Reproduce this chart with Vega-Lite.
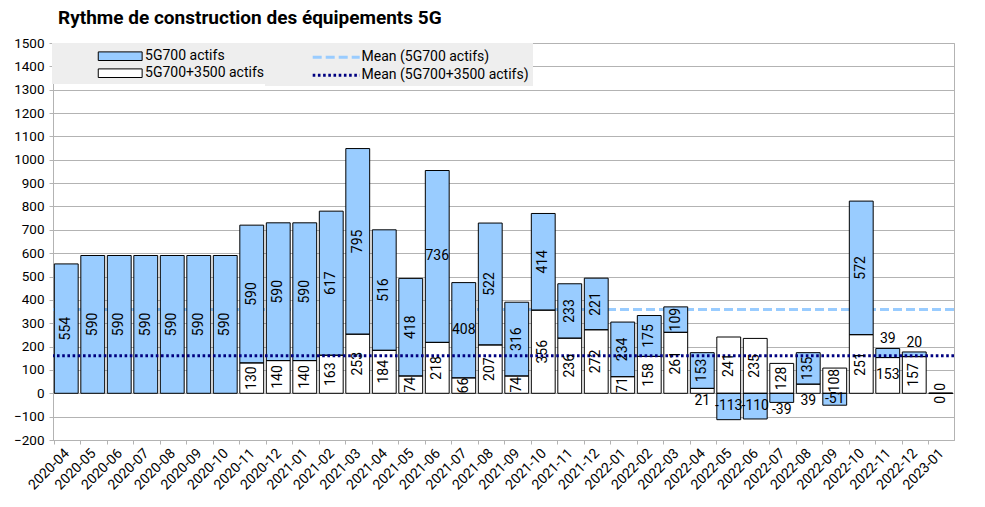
{
  "$schema": "https://vega.github.io/schema/vega-lite/v6.json",
  "width": 901,
  "height": 397,
  "autosize": {"type": "none"},
  "padding": {"left": 53, "top": 43, "right": 31, "bottom": 67},
  "title": {"text": "Rythme de construction des équipements 5G", "anchor": "start", "frame": "group", "fontSize": 19, "fontWeight": "bold", "font": "Roboto", "color": "black", "baseline": "alphabetic", "offset": 15, "dx": 5, "dy": 22},
  "config": {
    "font": "Roboto",
    "view": {"stroke": "#b3b3b3"},
    "axis": {"domainColor": "#b3b3b3", "tickColor": "#b3b3b3", "gridColor": "#b3b3b3", "labelColor": "black", "labelFont": "Roboto"}
  },
  "data": {"values": [
    {"month": "2020-04", "series": "5G700 actifs", "value": 554},
    {"month": "2020-05", "series": "5G700 actifs", "value": 590},
    {"month": "2020-06", "series": "5G700 actifs", "value": 590},
    {"month": "2020-07", "series": "5G700 actifs", "value": 590},
    {"month": "2020-08", "series": "5G700 actifs", "value": 590},
    {"month": "2020-09", "series": "5G700 actifs", "value": 590},
    {"month": "2020-10", "series": "5G700 actifs", "value": 590},
    {"month": "2020-11", "series": "5G700 actifs", "value": 590},
    {"month": "2020-12", "series": "5G700 actifs", "value": 590},
    {"month": "2021-01", "series": "5G700 actifs", "value": 590},
    {"month": "2021-02", "series": "5G700 actifs", "value": 617},
    {"month": "2021-03", "series": "5G700 actifs", "value": 795},
    {"month": "2021-04", "series": "5G700 actifs", "value": 516},
    {"month": "2021-05", "series": "5G700 actifs", "value": 418},
    {"month": "2021-06", "series": "5G700 actifs", "value": 736},
    {"month": "2021-07", "series": "5G700 actifs", "value": 408},
    {"month": "2021-08", "series": "5G700 actifs", "value": 522},
    {"month": "2021-09", "series": "5G700 actifs", "value": 316},
    {"month": "2021-10", "series": "5G700 actifs", "value": 414},
    {"month": "2021-11", "series": "5G700 actifs", "value": 233},
    {"month": "2021-12", "series": "5G700 actifs", "value": 221},
    {"month": "2022-01", "series": "5G700 actifs", "value": 234},
    {"month": "2022-02", "series": "5G700 actifs", "value": 175},
    {"month": "2022-03", "series": "5G700 actifs", "value": 109},
    {"month": "2022-04", "series": "5G700 actifs", "value": 153},
    {"month": "2022-05", "series": "5G700 actifs", "value": -113},
    {"month": "2022-06", "series": "5G700 actifs", "value": -110},
    {"month": "2022-07", "series": "5G700 actifs", "value": -39},
    {"month": "2022-08", "series": "5G700 actifs", "value": 135},
    {"month": "2022-09", "series": "5G700 actifs", "value": -51},
    {"month": "2022-10", "series": "5G700 actifs", "value": 572},
    {"month": "2022-11", "series": "5G700 actifs", "value": 39},
    {"month": "2022-12", "series": "5G700 actifs", "value": 20},
    {"month": "2023-01", "series": "5G700 actifs", "value": 0},
    {"month": "2020-11", "series": "5G700+3500 actifs", "value": 130},
    {"month": "2020-12", "series": "5G700+3500 actifs", "value": 140},
    {"month": "2021-01", "series": "5G700+3500 actifs", "value": 140},
    {"month": "2021-02", "series": "5G700+3500 actifs", "value": 163},
    {"month": "2021-03", "series": "5G700+3500 actifs", "value": 253},
    {"month": "2021-04", "series": "5G700+3500 actifs", "value": 184},
    {"month": "2021-05", "series": "5G700+3500 actifs", "value": 74},
    {"month": "2021-06", "series": "5G700+3500 actifs", "value": 218},
    {"month": "2021-07", "series": "5G700+3500 actifs", "value": 66},
    {"month": "2021-08", "series": "5G700+3500 actifs", "value": 207},
    {"month": "2021-09", "series": "5G700+3500 actifs", "value": 74},
    {"month": "2021-10", "series": "5G700+3500 actifs", "value": 356},
    {"month": "2021-11", "series": "5G700+3500 actifs", "value": 236},
    {"month": "2021-12", "series": "5G700+3500 actifs", "value": 272},
    {"month": "2022-01", "series": "5G700+3500 actifs", "value": 71},
    {"month": "2022-02", "series": "5G700+3500 actifs", "value": 158},
    {"month": "2022-03", "series": "5G700+3500 actifs", "value": 261},
    {"month": "2022-04", "series": "5G700+3500 actifs", "value": 21},
    {"month": "2022-05", "series": "5G700+3500 actifs", "value": 241},
    {"month": "2022-06", "series": "5G700+3500 actifs", "value": 235},
    {"month": "2022-07", "series": "5G700+3500 actifs", "value": 128},
    {"month": "2022-08", "series": "5G700+3500 actifs", "value": 39},
    {"month": "2022-09", "series": "5G700+3500 actifs", "value": 108},
    {"month": "2022-10", "series": "5G700+3500 actifs", "value": 251},
    {"month": "2022-11", "series": "5G700+3500 actifs", "value": 153},
    {"month": "2022-12", "series": "5G700+3500 actifs", "value": 157},
    {"month": "2023-01", "series": "5G700+3500 actifs", "value": 0}
  ]},
  "layer": [
    {
      "transform": [{"filter": "datum.series === '5G700 actifs'"}],
      "mark": {"type": "rule", "strokeWidth": 3},
      "encoding": {
        "y": {"aggregate": "mean", "field": "value", "type": "quantitative", "title": null, "scale": {"domain": [-200, 1500], "nice": false, "zero": false},
              "axis": {"values": [-200,-100,0,100,200,300,400,500,600,700,800,900,1000,1100,1200,1300,1400,1500], "format": "d", "labelFontSize": 13.5, "tickSize": 4, "labelPadding": 5, "grid": true, "title": null}},
        "stroke": {"datum": "Mean (5G700 actifs)", "type": "nominal",
          "scale": {"domain": ["Mean (5G700 actifs)", "Mean (5G700+3500 actifs)"], "range": ["#99ccff", "#000080"]},
          "legend": {"orient": "none", "legendX": 212, "legendY": 0, "title": null, "fillColor": "#eeeeee", "padding": 3.7,
            "symbolType": "M-2.7,0H2.7", "symbolSize": 303, "symbolStrokeWidth": 3, "symbolOffset": 57, "labelOffset": 14.8,
            "labelFontSize": 14, "labelFont": "Roboto", "labelColor": "black", "labelLimit": 400, "rowPadding": -3}},
        "strokeDash": {"datum": "Mean (5G700 actifs)", "type": "nominal",
          "scale": {"domain": ["Mean (5G700 actifs)", "Mean (5G700+3500 actifs)"], "range": [[9, 4], [2.6, 2.6]]},
          "legend": {"orient": "none", "legendX": 212, "legendY": 0, "title": null, "fillColor": "#eeeeee", "padding": 3.7,
            "symbolType": "M-2.7,0H2.7", "symbolSize": 303, "symbolStrokeWidth": 3, "symbolOffset": 57, "labelOffset": 14.8,
            "labelFontSize": 14, "labelFont": "Roboto", "labelColor": "black", "labelLimit": 400, "rowPadding": -3}}
      }
    },
    {
      "transform": [
        {"stack": "value", "groupby": ["month"], "sort": [{"field": "series", "order": "descending"}], "as": ["v0", "v1"]}
      ],
      "mark": {"type": "bar", "opacity": 1},
      "encoding": {
        "x": {"field": "month", "type": "nominal", "title": null, "scale": {"paddingInner": 0.1, "paddingOuter": 0.05},
              "axis": {"labelAngle": -45, "labelFontSize": 14, "tickSize": 4, "labelPadding": 2, "bandPosition": 0, "labelOffset": -4, "grid": false}},
        "y": {"field": "v0", "type": "quantitative", "title": null, "scale": {"domain": [-200, 1500], "nice": false, "zero": false},
              "axis": {"values": [-200,-100,0,100,200,300,400,500,600,700,800,900,1000,1100,1200,1300,1400,1500], "format": "d", "labelFontSize": 13.5, "tickSize": 4, "labelPadding": 5, "grid": true, "title": null}},
        "y2": {"field": "v1"},
        "fill": {"field": "series", "type": "nominal",
          "scale": {"domain": ["5G700 actifs", "5G700+3500 actifs"], "range": ["#99ccff", "#ffffff"]},
          "legend": {
            "orient": "none", "legendX": -1, "legendY": 0, "title": null,
            "fillColor": "#eeeeee", "padding": 3.7,
            "symbolType": "M-2.55,-0.5H2.55V0.5H-2.55Z", "symbolSize": 296, "symbolStrokeColor": "black", "symbolStrokeWidth": 1,
            "symbolOffset": 55, "labelOffset": 15.4, "labelFontSize": 14, "labelFont": "Roboto", "labelColor": "black", "labelLimit": 400,
            "rowPadding": -3, "symbolOpacity": 1
          }
        }
      }
    },
    {
      "transform": [
        {"stack": "value", "groupby": ["month"], "sort": [{"field": "series", "order": "descending"}], "as": ["v0", "v1"]}
      ],
      "mark": {"type": "bar", "fill": "transparent", "stroke": "black", "strokeWidth": 1},
      "encoding": {
        "x": {"field": "month", "type": "nominal", "title": null},
        "y": {"field": "v0", "type": "quantitative", "title": null,
              "axis": {"values": [-200,-100,0,100,200,300,400,500,600,700,800,900,1000,1100,1200,1300,1400,1500], "format": "d", "labelFontSize": 13.5, "tickSize": 4, "labelPadding": 5, "grid": true, "title": null}},
        "y2": {"field": "v1"}
      }
    },
    {
      "transform": [{"filter": "datum.series === '5G700+3500 actifs'"}],
      "mark": {"type": "rule", "strokeWidth": 3},
      "encoding": {
        "y": {"aggregate": "mean", "field": "value", "type": "quantitative", "title": null,
              "axis": {"values": [-200,-100,0,100,200,300,400,500,600,700,800,900,1000,1100,1200,1300,1400,1500], "format": "d", "labelFontSize": 13.5, "tickSize": 4, "labelPadding": 5, "grid": true, "title": null}},
        "stroke": {"datum": "Mean (5G700+3500 actifs)", "type": "nominal"},
        "strokeDash": {"datum": "Mean (5G700+3500 actifs)", "type": "nominal"}
      }
    },
    {
      "transform": [
        {"stack": "value", "groupby": ["month"], "sort": [{"field": "series", "order": "descending"}], "as": ["v0", "v1"]},
        {"calculate": "(datum.v0 + datum.v1) / 2", "as": "mid"},
        {"filter": "indexof(['2021-06|5G700 actifs','2021-07|5G700 actifs','2022-05|5G700 actifs','2022-06|5G700 actifs','2022-09|5G700 actifs','2022-11|5G700+3500 actifs','2022-11|5G700 actifs','2022-12|5G700 actifs','2022-04|5G700+3500 actifs','2022-08|5G700+3500 actifs','2022-07|5G700 actifs','2023-01|5G700 actifs','2023-01|5G700+3500 actifs'], datum.month + '|' + datum.series) < 0"}
      ],
      "mark": {"type": "text", "angle": 270, "align": "center", "baseline": "middle", "fontSize": 14, "font": "Roboto", "color": "black"},
      "encoding": {
        "x": {"field": "month", "type": "nominal"},
        "y": {"field": "mid", "type": "quantitative", "title": null,
              "axis": {"values": [-200,-100,0,100,200,300,400,500,600,700,800,900,1000,1100,1200,1300,1400,1500], "format": "d", "labelFontSize": 13.5, "tickSize": 4, "labelPadding": 5, "grid": true, "title": null}},
        "text": {"field": "value", "type": "nominal"}
      }
    },
    {
      "transform": [
        {"filter": "datum.month === '2023-01' && datum.series === '5G700 actifs'"}
      ],
      "mark": {"type": "text", "angle": 270, "align": "center", "baseline": "middle", "fontSize": 14, "font": "Roboto", "color": "black", "dx": 6.5},
      "encoding": {
        "x": {"field": "month", "type": "nominal"},
        "y": {"field": "value", "type": "quantitative", "title": null,
              "axis": {"values": [-200,-100,0,100,200,300,400,500,600,700,800,900,1000,1100,1200,1300,1400,1500], "format": "d", "labelFontSize": 13.5, "tickSize": 4, "labelPadding": 5, "grid": true, "title": null}},
        "text": {"field": "value", "type": "nominal"}
      }
    },
    {
      "transform": [
        {"filter": "datum.month === '2023-01' && datum.series === '5G700+3500 actifs'"}
      ],
      "mark": {"type": "text", "angle": 270, "align": "center", "baseline": "middle", "fontSize": 14, "font": "Roboto", "color": "black", "dx": -6.5},
      "encoding": {
        "x": {"field": "month", "type": "nominal"},
        "y": {"field": "value", "type": "quantitative", "title": null,
              "axis": {"values": [-200,-100,0,100,200,300,400,500,600,700,800,900,1000,1100,1200,1300,1400,1500], "format": "d", "labelFontSize": 13.5, "tickSize": 4, "labelPadding": 5, "grid": true, "title": null}},
        "text": {"field": "value", "type": "nominal"}
      }
    },
    {
      "transform": [
        {"stack": "value", "groupby": ["month"], "sort": [{"field": "series", "order": "descending"}], "as": ["v0", "v1"]},
        {"calculate": "(datum.v0 + datum.v1) / 2", "as": "mid"},
        {"filter": "indexof(['2021-06|5G700 actifs','2021-07|5G700 actifs','2022-05|5G700 actifs','2022-06|5G700 actifs','2022-09|5G700 actifs','2022-11|5G700+3500 actifs'], datum.month + '|' + datum.series) >= 0"}
      ],
      "mark": {"type": "text", "align": "center", "baseline": "middle", "fontSize": 14, "font": "Roboto", "color": "black"},
      "encoding": {
        "x": {"field": "month", "type": "nominal"},
        "y": {"field": "mid", "type": "quantitative", "title": null,
              "axis": {"values": [-200,-100,0,100,200,300,400,500,600,700,800,900,1000,1100,1200,1300,1400,1500], "format": "d", "labelFontSize": 13.5, "tickSize": 4, "labelPadding": 5, "grid": true, "title": null}},
        "text": {"field": "value", "type": "nominal"}
      }
    },
    {
      "transform": [
        {"stack": "value", "groupby": ["month"], "sort": [{"field": "series", "order": "descending"}], "as": ["v0", "v1"]},
        {"filter": "indexof(['2022-11|5G700 actifs','2022-12|5G700 actifs'], datum.month + '|' + datum.series) >= 0"}
      ],
      "mark": {"type": "text", "align": "center", "baseline": "middle", "fontSize": 14, "font": "Roboto", "color": "black", "dy": -9},
      "encoding": {
        "x": {"field": "month", "type": "nominal"},
        "y": {"field": "v1", "type": "quantitative", "title": null,
              "axis": {"values": [-200,-100,0,100,200,300,400,500,600,700,800,900,1000,1100,1200,1300,1400,1500], "format": "d", "labelFontSize": 13.5, "tickSize": 4, "labelPadding": 5, "grid": true, "title": null}},
        "text": {"field": "value", "type": "nominal"}
      }
    },
    {
      "transform": [
        {"stack": "value", "groupby": ["month"], "sort": [{"field": "series", "order": "descending"}], "as": ["v0", "v1"]},
        {"calculate": "min(datum.v0, datum.v1)", "as": "lo"},
        {"filter": "indexof(['2022-04|5G700+3500 actifs','2022-08|5G700+3500 actifs','2022-07|5G700 actifs'], datum.month + '|' + datum.series) >= 0"}
      ],
      "mark": {"type": "text", "align": "center", "baseline": "middle", "fontSize": 14, "font": "Roboto", "color": "black", "dy": 8},
      "encoding": {
        "x": {"field": "month", "type": "nominal"},
        "y": {"field": "lo", "type": "quantitative", "title": null,
              "axis": {"values": [-200,-100,0,100,200,300,400,500,600,700,800,900,1000,1100,1200,1300,1400,1500], "format": "d", "labelFontSize": 13.5, "tickSize": 4, "labelPadding": 5, "grid": true, "title": null}},
        "text": {"field": "value", "type": "nominal"}
      }
    }
  ]
}
